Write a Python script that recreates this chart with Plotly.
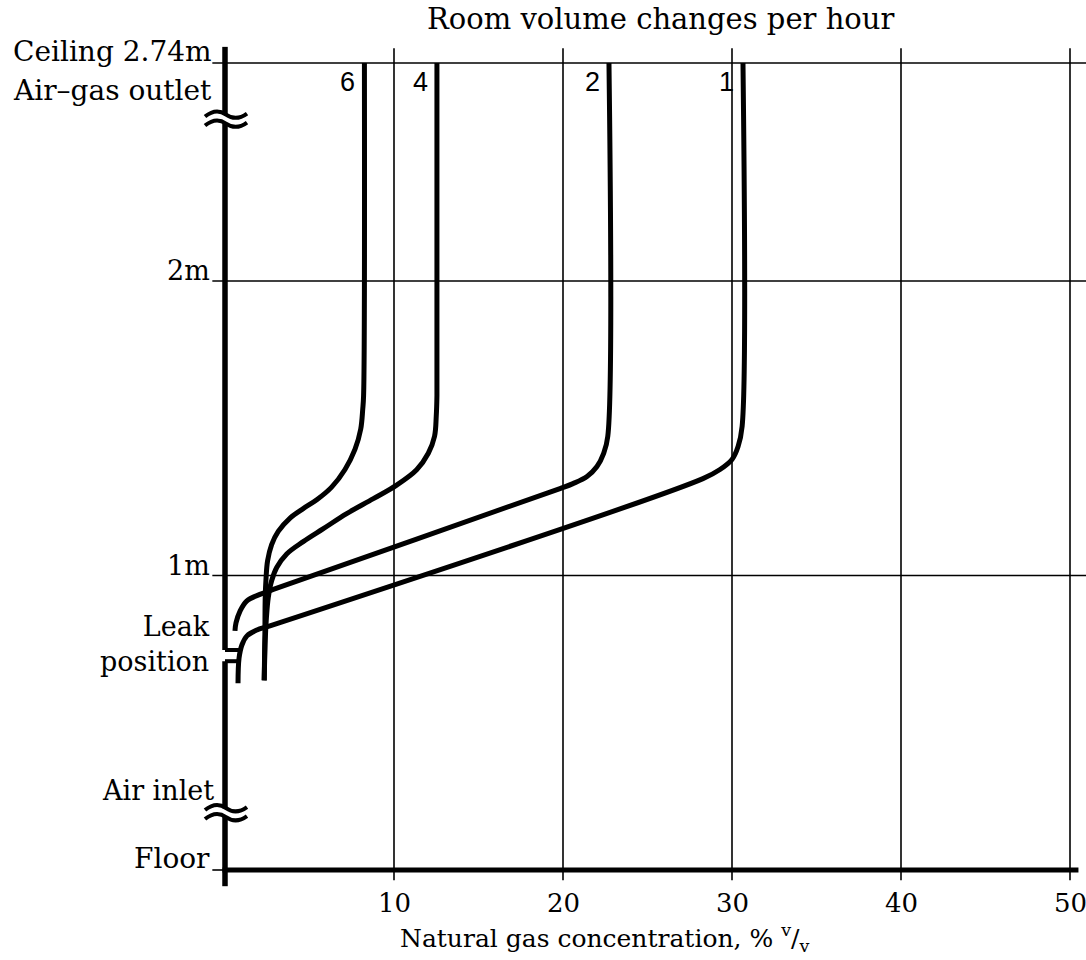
import plotly.graph_objects as go

# ---------------- data ----------------
x_ticks = [10, 20, 30, 40, 50]
tick_labels = ["10", "20", "30", "40", "50"]

ceiling = 2.74
h_lines = [1.0, 2.0]
h_labels = ["1m", "2m"]
leak_hi, leak_lo = 0.747, 0.709
outlet_break = 2.55
inlet_break = 0.195

series_names = ["6", "4", "2", "1"]

x6 = [8.25, 8.2, 8.15, 8.03, 7.69, 7.10, 6.31, 5.45, 4.65, 3.85, 3.15, 2.76, 2.52, 2.43, 2.38, 2.36, 2.32]
y6 = [2.74, 1.61, 1.565, 1.497, 1.428, 1.360, 1.300, 1.258, 1.228, 1.195, 1.150, 1.105, 1.050, 0.993, 0.925, 0.80, 0.644]

x4 = [12.54, 12.54, 12.5, 12.4, 12.03, 11.34, 10.16, 8.78, 7.20, 5.82, 4.63, 3.65, 3.06, 2.76, 2.56, 2.45, 2.38, 2.32]
y4 = [2.74, 1.61, 1.541, 1.473, 1.415, 1.359, 1.307, 1.261, 1.210, 1.159, 1.115, 1.073, 1.027, 0.982, 0.925, 0.856, 0.78, 0.644]

x2 = [22.72, 22.65, 22.4, 22.01, 21.42, 20.59, 19.82, 2.86, 2.07, 1.28, 0.89, 0.65, 0.59]
y2 = [2.74, 1.473, 1.414, 1.37, 1.336, 1.312, 1.295, 0.953, 0.936, 0.913, 0.879, 0.839, 0.812]

x1 = [30.65, 30.6, 30.36, 30.0, 29.29, 28.28, 2.66, 1.89, 1.3, 1.0, 0.83, 0.77]
y1 = [2.74, 1.507, 1.438, 1.394, 1.36, 1.329, 0.829, 0.815, 0.795, 0.764, 0.719, 0.634]

series_x = [x6, x4, x2, x1]
series_y = [y6, y4, y2, y1]

# ---------------- figure ----------------
FONT = "DejaVu Serif"
BLACK = "#000000"
W, H = 1086, 960

fig = go.Figure()

for name, xs, ys in zip(series_names, series_x, series_y):
    fig.add_trace(go.Scatter(
        x=xs, y=ys, mode="lines", name=name,
        line=dict(color=BLACK, width=5, shape="spline", smoothing=1.0),
        hoverinfo="skip", showlegend=False,
    ))

shapes = []
grid_top = ceiling + 0.05
grid_bot = -0.035
x_left_lead = -0.75
x_right_edge = 51.5

# vertical grid lines with ticks below the floor
for v in x_ticks:
    shapes.append(dict(type="line", xref="x", yref="y", x0=v, x1=v, y0=grid_bot, y1=grid_top,
                       line=dict(color=BLACK, width=1.6), layer="below"))
# horizontal lines (1m, 2m, ceiling) with leaders
for hv in h_lines + [ceiling]:
    shapes.append(dict(type="line", xref="x", yref="y", x0=x_left_lead, x1=x_right_edge, y0=hv, y1=hv,
                       line=dict(color=BLACK, width=1.6), layer="below"))
# floor axis
shapes.append(dict(type="line", xref="x", yref="y", x0=x_left_lead, x1=0, y0=0, y1=0,
                   line=dict(color=BLACK, width=1.6)))
shapes.append(dict(type="line", xref="x", yref="y", x0=-0.15, x1=50.5, y0=0, y1=0,
                   line=dict(color=BLACK, width=5)))

# vertical (height) axis, broken at the outlet, the leak and the inlet
gap = 0.015
axis_top = ceiling + 0.055
axis_bot = -0.055
for y0, y1 in [(axis_top, outlet_break + gap), (outlet_break - gap, leak_hi),
               (leak_lo, inlet_break + gap), (inlet_break - gap, axis_bot)]:
    shapes.append(dict(type="line", xref="x", yref="y", x0=0, x1=0, y0=y0, y1=y1,
                       line=dict(color=BLACK, width=5.5)))
# leak stubs
for yy in [leak_hi, leak_lo]:
    shapes.append(dict(type="line", xref="x", yref="y", x0=0, x1=0.85, y0=yy, y1=yy,
                       line=dict(color=BLACK, width=4)))
# break marks (wavy double lines)
for yb in [outlet_break, inlet_break]:
    for off in [4.5, -4.5]:
        shapes.append(dict(type="path", xref="x", yref="y", xsizemode="pixel", ysizemode="pixel",
                           xanchor=0, yanchor=yb,
                           path=f"M -20 {off-2} Q -9 {off+7} 1 {off} T 22 {off+1}",
                           line=dict(color=BLACK, width=4)))

annotations = []
# x tick labels
for v, t in zip(x_ticks, tick_labels):
    annotations.append(dict(x=v, y=0, xref="x", yref="y", text=t, showarrow=False,
                            yanchor="top", yshift=-16, font=dict(family=FONT, size=26, color=BLACK)))
# left labels
left_font = dict(family=FONT, size=27, color=BLACK)
big_font = dict(family=FONT, size=28, color=BLACK)
for hv, t in zip(h_lines, h_labels):
    annotations.append(dict(x=x_left_lead, y=hv, xref="x", yref="y", text=t, showarrow=False,
                            xanchor="right", yanchor="bottom", yshift=-7, font=left_font))
annotations.append(dict(x=x_left_lead, y=ceiling, xref="x", yref="y", text="Ceiling 2.74m", showarrow=False,
                        xanchor="right", yanchor="bottom", yshift=-7, xshift=2, font=big_font))
annotations.append(dict(x=x_left_lead, y=ceiling, xref="x", yref="y", text="Air–gas outlet", showarrow=False,
                        xanchor="right", yanchor="middle", yshift=-27, xshift=2, font=big_font))
annotations.append(dict(x=x_left_lead, y=(leak_hi + leak_lo) / 2, xref="x", yref="y",
                        text="Leak<br>position", showarrow=False, align="right",
                        xanchor="right", yanchor="middle", yshift=12, font=left_font))
annotations.append(dict(x=x_left_lead, y=inlet_break, xref="x", yref="y", text="Air inlet", showarrow=False,
                        xanchor="right", yanchor="middle", yshift=22, xshift=4, font=left_font))
annotations.append(dict(x=x_left_lead, y=0, xref="x", yref="y", text="Floor", showarrow=False,
                        xanchor="right", yanchor="bottom", yshift=-7, font=big_font))
# series labels near the ceiling
for name, xs in zip(series_names, series_x):
    annotations.append(dict(x=xs[0], y=ceiling, xref="x", yref="y", text=name, showarrow=False,
                            xanchor="right", yanchor="top", xshift=-7, yshift=-2,
                            font=dict(family="Liberation Sans", size=27, color=BLACK)))
# titles
annotations.append(dict(x=661 / W, y=1 - 19 / H, xref="paper", yref="paper",
                        text="Room volume changes per hour", showarrow=False,
                        xanchor="center", yanchor="middle", font=dict(family=FONT, size=29, color=BLACK)))
annotations.append(dict(x=604 / W, y=1 - 938 / H, xref="paper", yref="paper",
                        text="Natural gas concentration, % <sup>v</sup>/<sub>v</sub>", showarrow=False,
                        xanchor="center", yanchor="middle", font=dict(family=FONT, size=25, color=BLACK)))

px_per_x = 16.9
x_origin_px = 225
px_per_m = 294.5
floor_px = 870

fig.update_layout(
    width=W, height=H,
    margin=dict(l=0, r=0, t=0, b=0),
    paper_bgcolor="white", plot_bgcolor="white",
    xaxis=dict(visible=False, range=[-x_origin_px / px_per_x, (W - x_origin_px) / px_per_x], fixedrange=True),
    yaxis=dict(visible=False, range=[-(H - floor_px) / px_per_m, floor_px / px_per_m], fixedrange=True),
    shapes=shapes, annotations=annotations, showlegend=False,
)

fig.write_html("out.html", config={"displayModeBar": False},
               post_script="document.body.style.margin='0';document.body.style.overflow='hidden';")
